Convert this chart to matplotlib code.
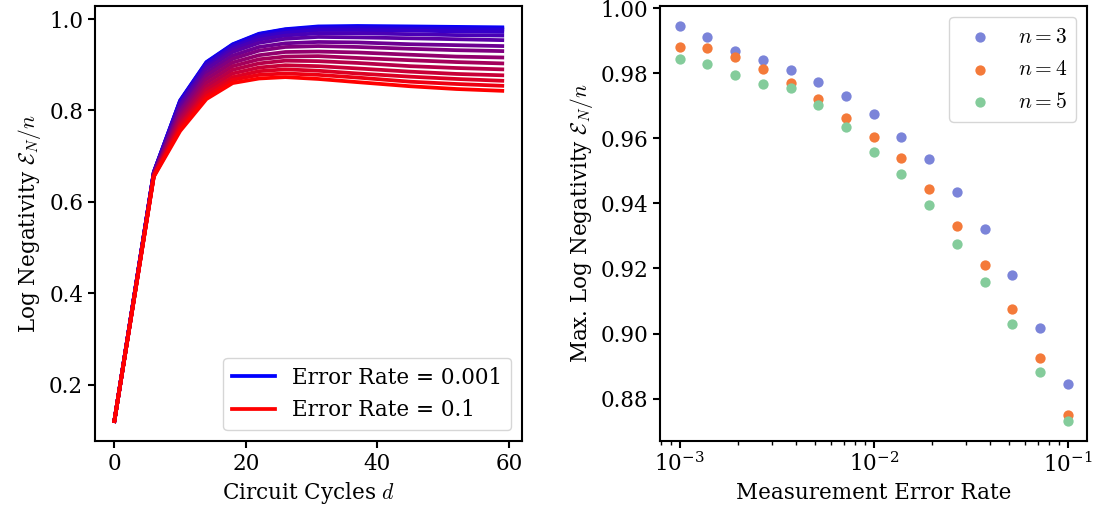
import matplotlib
matplotlib.use('Agg')
import matplotlib.pyplot as plt

plt.rcParams['font.family'] = ['DejaVu Serif']
plt.rcParams['mathtext.fontset'] = 'cm'
plt.rcParams['font.size'] = 15.5
plt.rcParams['axes.linewidth'] = 1.5
for ax_name in ('xtick', 'ytick'):
    plt.rcParams[ax_name + '.major.width'] = 1.5
    plt.rcParams[ax_name + '.major.size'] = 5
    plt.rcParams[ax_name + '.minor.width'] = 1.0
    plt.rcParams[ax_name + '.minor.size'] = 3

# circuit cycles sampled for the left panel
ciclos = [0, 6, 10, 14, 18, 22, 26, 31, 37, 45, 52, 59]

# log negativity per error rate (blue = 0.001 ... red = 0.1)
curvas = [
    [0.12, 0.665, 0.822, 0.906, 0.945, 0.968, 0.978, 0.984, 0.985, 0.984, 0.983, 0.982],
    [0.12, 0.665, 0.821, 0.905, 0.944, 0.967, 0.977, 0.982, 0.983, 0.982, 0.981, 0.980],
    [0.12, 0.665, 0.820, 0.903, 0.942, 0.964, 0.974, 0.980, 0.981, 0.979, 0.978, 0.977],
    [0.12, 0.664, 0.817, 0.900, 0.939, 0.961, 0.970, 0.976, 0.976, 0.975, 0.973, 0.972],
    [0.12, 0.664, 0.813, 0.895, 0.934, 0.955, 0.964, 0.969, 0.969, 0.967, 0.965, 0.964],
    [0.12, 0.663, 0.809, 0.890, 0.928, 0.948, 0.957, 0.961, 0.960, 0.958, 0.956, 0.954],
    [0.12, 0.662, 0.802, 0.882, 0.920, 0.939, 0.947, 0.950, 0.949, 0.945, 0.943, 0.941],
    [0.12, 0.661, 0.797, 0.876, 0.913, 0.931, 0.939, 0.941, 0.939, 0.935, 0.932, 0.930],
    [0.12, 0.660, 0.790, 0.868, 0.905, 0.921, 0.928, 0.929, 0.927, 0.922, 0.918, 0.916],
    [0.12, 0.659, 0.784, 0.860, 0.897, 0.912, 0.918, 0.919, 0.915, 0.910, 0.906, 0.903],
    [0.12, 0.658, 0.778, 0.852, 0.889, 0.903, 0.909, 0.908, 0.904, 0.897, 0.893, 0.890],
    [0.12, 0.657, 0.771, 0.845, 0.881, 0.894, 0.899, 0.897, 0.892, 0.885, 0.880, 0.877],
    [0.12, 0.657, 0.766, 0.838, 0.873, 0.886, 0.890, 0.887, 0.881, 0.874, 0.869, 0.865],
    [0.12, 0.656, 0.760, 0.831, 0.867, 0.878, 0.881, 0.878, 0.872, 0.863, 0.858, 0.854],
    [0.12, 0.655, 0.755, 0.825, 0.860, 0.870, 0.873, 0.869, 0.862, 0.853, 0.847, 0.843],
]

# measurement error rates for the right panel
tasas = [0.001, 0.00139, 0.00193, 0.00268, 0.00373, 0.00518, 0.00720, 0.01,
         0.0139, 0.0193, 0.0268, 0.0373, 0.0518, 0.0720, 0.1]
max_n3 = [0.9945, 0.9912, 0.9869, 0.9840, 0.9810, 0.9773, 0.9730, 0.9676,
          0.9605, 0.9537, 0.9434, 0.9320, 0.9180, 0.9018, 0.8844]
max_n4 = [0.9880, 0.9878, 0.9849, 0.9813, 0.9769, 0.9720, 0.9661, 0.9605,
          0.9539, 0.9444, 0.9331, 0.9211, 0.9075, 0.8924, 0.8751]
max_n5 = [0.9844, 0.9829, 0.9795, 0.9768, 0.9754, 0.9702, 0.9636, 0.9559,
          0.9490, 0.9396, 0.9276, 0.9157, 0.9030, 0.8883, 0.8731]

fig, (ax1, ax2) = plt.subplots(1, 2, figsize=(10.98, 5.18), dpi=100)
fig.subplots_adjust(left=0.0865, right=0.99, bottom=0.149, top=0.988, wspace=0.325)

n = len(curvas)
for i, valores in enumerate(curvas):
    t = i / (n - 1)
    etiqueta = None
    if i == 0:
        etiqueta = 'Error Rate = 0.001'
    elif i == n - 1:
        etiqueta = 'Error Rate = 0.1'
    ax1.plot(ciclos, valores, color=(t, 0, 1 - t), lw=2.7, label=etiqueta)
ax1.set_xlabel('Circuit Cycles $d$')
ax1.set_ylabel(r'Log Negativity $\mathcal{E}_N/n$')
ax1.set_xticks([0, 20, 40, 60])
ax1.set_yticks([0.2, 0.4, 0.6, 0.8, 1.0])
ax1.legend(loc='lower right')

ax2.scatter(tasas, max_n3, s=55, color='#7b84d9', label='$n=3$', lw=0)
ax2.scatter(tasas, max_n4, s=55, color='#f47a3a', label='$n=4$', lw=0)
ax2.scatter(tasas, max_n5, s=55, color='#84cc9b', label='$n=5$', lw=0)
ax2.set_xscale('log')
ax2.set_xlabel('Measurement Error Rate')
ax2.set_ylabel(r'Max. Log Negativity $\mathcal{E}_N/n$')
ax2.legend(loc='upper right')

plt.savefig('out.png')
plt.close()
